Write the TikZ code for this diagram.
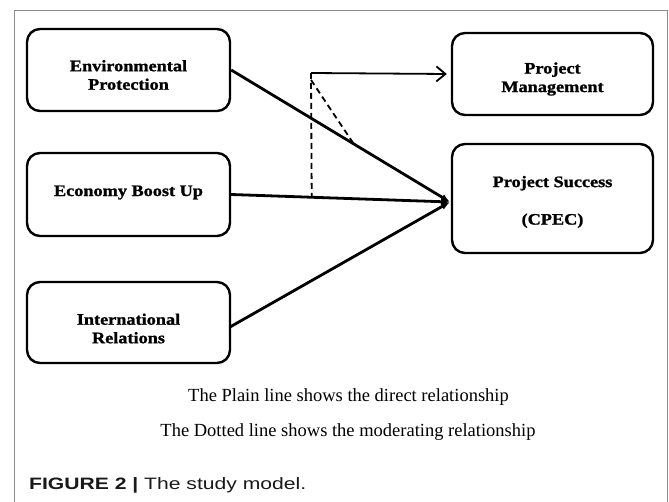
\documentclass[tikz,border=0pt]{standalone}
\usepackage{fontspec}
\setmainfont{Liberation Serif}
\newfontfamily\boxfont[FakeStretch=1.14,BoldFeatures={FakeBold=1.2}]{Liberation Serif}
\newfontfamily\capfont[FakeStretch=1.28]{Liberation Sans}
\usetikzlibrary{arrows.meta,calc}
\begin{document}
\begin{tikzpicture}[x=1pt,y=-1pt,
  box/.style={draw,line width=2.4pt,rounded corners=13pt,inner sep=0pt},
  boxtext/.style={inner sep=0pt,align=center,font=\boxfont\bfseries\fontsize{16}{18.5}\selectfont},
  mainline/.style={line width=2.8pt,-{Latex[length=9pt,width=7pt]}},
  modline/.style={line width=1.8pt,dash pattern=on 6pt off 4pt},
  note/.style={inner sep=0pt,font=\fontsize{18.5}{20}\selectfont}]
\useasboundingbox (0,0) rectangle (669,502);
\fill[white] (0,0) rectangle (669,502);
\draw[black!45,line width=1pt] (14,502) -- (14,11) -- (667,11) -- (667,502);

\node[box,minimum width=203pt,minimum height=82pt] (env) at (128.5,70) {};
\node[box,minimum width=203pt,minimum height=83pt] (eco) at (128.5,194.5) {};
\node[box,minimum width=203pt,minimum height=81pt] (intl) at (128.5,322.5) {};
\node[box,minimum width=201pt,minimum height=82pt] (pm) at (552.5,74) {};
\node[box,minimum width=201pt,minimum height=109pt] (ps) at (552.5,198.5) {};

\node[boxtext] (envt) at ([yshift=-5pt]env.center) {Environmental\\Protection};
\node[boxtext] (ecot) at ([yshift=2pt]eco.center) {Economy Boost Up};
\node[boxtext] (intlt) at ([yshift=-6pt]intl.center) {International\\Relations};
\node[boxtext] (pmt) at ([yshift=-5pt]pm.center) {Project\\Management};
\node[boxtext] (pst) at ([yshift=-3.5pt]ps.center) {Project Success\\[19pt](CPEC)};

\coordinate (tip) at (450,202);
\coordinate (m) at (311,73);
\coordinate (intlout) at (230,327);

\draw[mainline] (env.east) -- (tip);
\draw[mainline] (eco.east) -- (tip);
\draw[mainline] (intlout) -- (tip);

\draw[line width=1.8pt,-{Straight Barb[length=9pt,width=15pt,line width=1.8pt]}] (m) -- ([xshift=-4pt]pm.west);
\draw[modline] (m) -- ($(eco.east)!0.368!(tip)$);
\draw[modline] ([yshift=-7pt]m) -- ($(env.east)!0.56!(tip)$);

\node[note] (n1) at (348.5,397) {The Plain line shows the direct relationship};
\node[note] (n2) at (348,432) {The Dotted line shows the moderating relationship};
\node[anchor=west,inner sep=0pt,text=black!90,font=\capfont\fontsize{16.5}{20}\selectfont] (cap) at (29,485) {\textbf{FIGURE 2 |} The study model.};
\end{tikzpicture}
\end{document}
